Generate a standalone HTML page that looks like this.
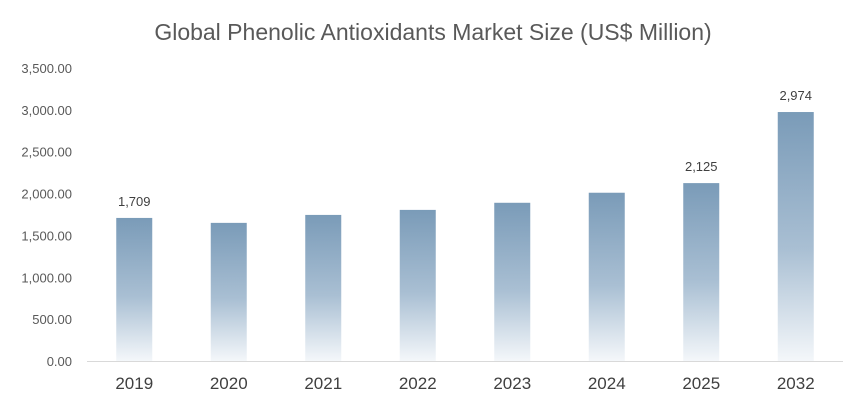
<!DOCTYPE html>
<html><head><meta charset="utf-8"><style>
body{margin:0;background:#fff;font-family:"Liberation Sans",sans-serif;}
svg{display:block}
</style></head><body>
<svg id="chart" width="865" height="407">
<defs><linearGradient id="g" x1="0" y1="0" x2="0" y2="1">
<stop offset="0" stop-color="#7a9bb8"/><stop offset="0.55" stop-color="#a9bfd3"/><stop offset="1" stop-color="#f4f7fa"/></linearGradient></defs>
<text x="433" y="40" text-anchor="middle" font-size="23" fill="#595959">Global Phenolic Antioxidants Market Size (US$ Million)</text>
<g id="yaxis"></g><g id="bars"></g><g id="xaxis"></g>
</svg>
<script>
const categories=["2019","2020","2021","2022","2023","2024","2025","2032"];
const values=[1709,1650,1745,1805,1890,2010,2125,2974];
const labelled=["1,709",null,null,null,null,null,"2,125","2,974"];
const yTicks=[0,500,1000,1500,2000,2500,3000,3500];
const ns="http://www.w3.org/2000/svg";
const x0=87,step=94.5,bw=36,yBase=361,yTop=68,yMax=3500;
function y(v){return yBase-(v/yMax)*(yBase-yTop);}
function x(i){return x0+step*i+step/2;}
function mk(t,a,p){const e=document.createElementNS(ns,t);for(const k in a)e.setAttribute(k,a[k]);p.appendChild(e);return e;}
const ya=document.getElementById('yaxis');
yTicks.forEach(v=>{const t=mk('text',{x:72,y:y(v)+5,'text-anchor':'end','font-size':'13',fill:'#595959'},ya);
t.textContent=v.toLocaleString('en-US',{minimumFractionDigits:2,maximumFractionDigits:2});

});
const ax=mk('line',{x1:x0,x2:843,y1:yBase+0.5,y2:yBase+0.5,stroke:'#d9d9d9'},ya);


const bg=document.getElementById('bars');
values.forEach((v,i)=>{const r=mk('rect',{x:x(i)-bw/2,y:y(v),width:bw,height:yBase-y(v),fill:'url(#g)'},bg);


if(labelled[i]){const t=mk('text',{x:x(i),y:y(v)-12,'text-anchor':'middle','font-size':'13',fill:'#404040'},bg);t.textContent=labelled[i];

}
const c=mk('text',{x:x(i),y:389,'text-anchor':'middle','font-size':'17',fill:'#404040'},document.getElementById('xaxis'));c.textContent=categories[i];

});
</script>
</body></html>
